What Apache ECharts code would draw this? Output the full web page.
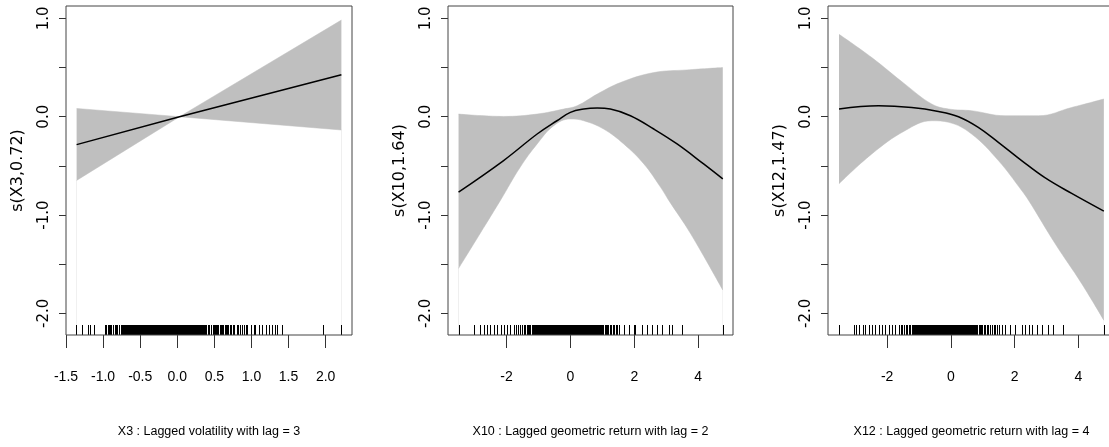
<!DOCTYPE html>
<html>
<head>
<meta charset="utf-8">
<script src="https://cdn.jsdelivr.net/npm/echarts@6/dist/echarts.min.js"></script>
<style>html,body{margin:0;padding:0;background:#fff}#c{width:1109px;height:447px}</style>
</head>
<body>
<div id="c"></div>
<script>
// ---------- data ----------
const yRange = [-2.22, 1.126];
const yTickValues = [-2, -1.5, -1, -0.5, 0, 0.5, 1];
const yLabelValues = [-2, -1, 0, 1];

// Panel 1: X3
const p1Range = [-1.5, 2.355];
const p1Ticks = [-1.5, -1, -0.5, 0, 0.5, 1, 1.5, 2];
const p1FitX = [-1.357, 0.03, 2.212];
const p1FitY = [-0.284, 0.0, 0.426];
const p1HiX = [-1.357, 0.03, 2.212];
const p1Hi = [0.084, 0.0, 0.983];
const p1LoX = [-1.357, 0.03, 2.212];
const p1Lo = [-0.648, 0.0, -0.135];
const p1Rug = [-1.36,-1.29,-1.21,-1.18,-1.12,
-0.98,-0.96,-0.94,-0.92,-0.91,-0.89,-0.87,-0.86,-0.84,-0.82,-0.81,-0.79,-0.78,-0.76,-0.75,-0.73,-0.72,-0.70,-0.69,-0.68,-0.66,-0.65,-0.64,-0.62,-0.61,-0.60,-0.59,-0.57,-0.56,-0.55,-0.54,-0.53,-0.51,-0.50,-0.49,-0.48,-0.47,-0.46,-0.45,-0.44,-0.43,-0.42,-0.41,-0.40,-0.39,-0.38,-0.37,-0.36,-0.35,-0.34,-0.33,-0.32,-0.31,-0.30,-0.29,-0.28,-0.27,-0.26,-0.25,-0.24,-0.23,-0.22,-0.21,-0.20,-0.19,-0.18,-0.17,-0.16,-0.15,-0.14,-0.13,-0.12,-0.11,-0.10,-0.09,-0.08,-0.07,-0.06,-0.05,-0.04,-0.03,-0.02,-0.01,0.00,0.01,0.02,0.03,0.04,0.05,0.06,0.07,0.08,0.09,0.10,0.11,0.12,0.13,0.14,0.15,0.16,0.17,0.18,0.19,0.20,0.21,0.22,0.23,0.24,0.25,0.26,0.27,0.28,0.29,0.30,0.31,0.32,0.33,0.34,0.35,0.36,0.37,0.38,0.39,0.41,0.42,0.43,0.45,0.46,0.48,0.49,0.51,0.52,0.54,0.55,0.57,0.59,0.60,0.62,0.64,0.65,0.67,0.69,0.71,0.73,0.75,0.77,0.80,0.82,0.85,0.87,0.90,0.92,0.94,0.99,1.03,1.05,1.10,1.14,1.19,1.23,1.28,1.32,1.35,1.41,1.96,2.21];

// Panel 2: X10
const p2Range = [-3.83, 5.09];
const p2Ticks = [-2, 0, 2, 4];
const p2FitX = [-3.50, -2.09, -1.04, -0.42, 0.0, 0.42, 0.84, 1.25, 1.88, 2.61, 3.34, 4.17, 4.77];
const p2FitY = [-0.767, -0.446, -0.176, -0.041, 0.044, 0.078, 0.088, 0.078, 0.010, -0.125, -0.277, -0.480, -0.632];
const p2HiX = [-3.50, -2.09, -1.04, -0.21, 0.21, 0.84, 1.57, 2.61, 3.65, 4.77];
const p2Hi = [0.027, 0.003, 0.027, 0.078, 0.111, 0.230, 0.348, 0.449, 0.476, 0.500];
const p2LoX = [-3.50, -2.19, -1.57, -1.04, -0.52, 0.0, 0.42, 1.04, 1.67, 2.30, 2.82, 3.08, 3.76, 4.77];
const p2Lo = [-1.543, -0.851, -0.513, -0.277, -0.091, -0.023, -0.041, -0.125, -0.277, -0.480, -0.716, -0.851, -1.188, -1.763];
const p2Rug = [-3.50,-3.03,-2.84,-2.71,-2.61,-2.50,-2.38,-2.29,-2.17,-2.09,-1.98,-1.88,-1.77,-1.70,-1.63,-1.57,-1.51,-1.46,-1.41,-1.37,-1.33,-1.29,
-1.25,-1.21,-1.18,-1.14,-1.11,-1.08,-1.05,-1.02,-0.99,-0.96,-0.93,-0.90,-0.88,-0.85,-0.83,-0.81,-0.79,-0.77,-0.75,-0.73,-0.71,-0.69,-0.67,-0.65,-0.63,-0.61,-0.59,-0.57,-0.55,-0.53,-0.51,-0.49,-0.47,-0.45,-0.43,-0.41,-0.39,-0.37,-0.35,-0.33,-0.31,-0.29,-0.27,-0.25,-0.23,-0.21,-0.19,-0.17,-0.15,-0.13,-0.11,-0.09,-0.07,-0.05,-0.03,-0.01,0.01,0.03,0.05,0.07,0.09,0.11,0.13,0.15,0.17,0.19,0.21,0.23,0.25,0.27,0.29,0.31,0.33,0.35,0.37,0.39,0.41,0.43,0.45,0.47,0.49,0.51,0.53,0.55,0.57,0.59,0.61,0.63,0.65,0.67,0.69,0.71,0.73,0.75,0.77,0.79,0.82,0.84,0.87,0.90,0.93,0.96,0.99,1.03,1.07,1.11,1.15,1.19,1.24,1.28,1.33,1.38,1.43,1.47,1.51,
1.67,1.83,1.98,2.03,2.24,2.40,2.56,2.71,2.87,3.08,3.18,3.50,4.77];

// Panel 3: X12
const p3Range = [-3.856, 5.15];
const p3Ticks = [-2, 0, 2, 4];
const p3FitX = [-3.51, -2.27, -1.23, -0.39, 0.24, 0.86, 1.49, 2.22, 2.95, 3.79, 4.80];
const p3FitY = [0.078, 0.111, 0.094, 0.054, 0.0, -0.108, -0.260, -0.446, -0.620, -0.780, -0.960];
const p3HiX = [-3.51, -2.48, -1.44, -0.60, -0.07, 0.65, 1.70, 2.75, 3.79, 4.80];
const p3Hi = [0.838, 0.601, 0.331, 0.129, 0.078, 0.061, 0.010, 0.010, 0.094, 0.180];
const p3LoX = [-3.51, -2.48, -1.44, -0.60, -0.07, 0.65, 1.49, 2.22, 2.44, 3.27, 4.10, 4.80];
const p3Lo = [-0.682, -0.378, -0.142, -0.041, -0.057, -0.176, -0.446, -0.750, -0.851, -1.290, -1.695, -2.070];
const p3Rug = [-3.51,-3.05,-2.98,-2.89,-2.77,-2.68,-2.58,-2.48,-2.37,-2.27,-2.16,-2.06,-1.95,-1.85,-1.74,-1.64,-1.58,-1.53,-1.47,-1.42,-1.37,-1.32,-1.27,
-1.22,-1.19,-1.16,-1.13,-1.10,-1.07,-1.04,-1.01,-0.98,-0.95,-0.92,-0.90,-0.87,-0.85,-0.83,-0.81,-0.79,-0.77,-0.75,-0.73,-0.71,-0.69,-0.67,-0.65,-0.63,-0.61,-0.59,-0.57,-0.55,-0.53,-0.51,-0.49,-0.47,-0.45,-0.43,-0.41,-0.39,-0.37,-0.35,-0.33,-0.31,-0.29,-0.27,-0.25,-0.23,-0.21,-0.19,-0.17,-0.15,-0.13,-0.11,-0.09,-0.07,-0.05,-0.03,-0.01,0.01,0.03,0.05,0.07,0.09,0.11,0.13,0.15,0.17,0.19,0.21,0.23,0.25,0.27,0.29,0.31,0.33,0.35,0.37,0.39,0.41,0.43,0.45,0.47,0.49,0.51,0.53,0.55,0.57,0.59,0.61,0.63,0.65,0.67,0.69,0.71,0.73,0.76,0.79,0.83,0.87,0.91,0.95,0.99,1.03,1.08,1.13,1.18,1.23,1.29,1.34,1.39,1.44,1.50,
1.60,1.70,1.86,2.02,2.23,2.33,2.44,2.54,2.70,2.87,3.06,3.22,3.53,4.80];

const xTitles = ['X3 : Lagged volatility with lag = 3', 'X10 : Lagged geometric return with lag = 2', 'X12 : Lagged geometric return with lag = 4'];
const yTitles = ['s(X3,0.72)', 's(X10,1.64)', 's(X12,1.47)'];

// ---------- chart ----------
const panels = [
  {range: p1Range, ticks: p1Ticks, fmt: v => v.toFixed(1), fitX: p1FitX, fitY: p1FitY, hiX: p1HiX, hi: p1Hi, loX: p1LoX, lo: p1Lo, rug: p1Rug, smooth: false},
  {range: p2Range, ticks: p2Ticks, fmt: v => String(v), fitX: p2FitX, fitY: p2FitY, hiX: p2HiX, hi: p2Hi, loX: p2LoX, lo: p2Lo, rug: p2Rug, smooth: 0.4},
  {range: p3Range, ticks: p3Ticks, fmt: v => String(v), fitX: p3FitX, fitY: p3FitY, hiX: p3HiX, hi: p3Hi, loX: p3LoX, lo: p3Lo, rug: p3Rug, smooth: 0.4}
];
const gridPos = [{left: 66, width: 286}, {left: 448, width: 285}, {left: 828, width: 287}];
const sans = '"Liberation Sans", Arial, sans-serif';
const pair = (xs, ys) => xs.map((x, i) => [x, ys[i]]);

const grid = [], xAxis = [], yAxis = [], series = [];
panels.forEach((p, i) => {
  grid.push({left: gridPos[i].left, width: gridPos[i].width, top: 6, height: 329, show: true, z: 10,
    outerBoundsMode: 'none', containLabel: false,
    backgroundColor: 'transparent', borderColor: '#444', borderWidth: 1});
  xAxis.push({gridIndex: i, type: 'value', min: p.range[0], max: p.range[1],
    axisLine: {show: false, onZero: false}, splitLine: {show: false},
    axisTick: {show: true, length: 13, customValues: p.ticks, lineStyle: {color: '#333', width: 1}},
    axisLabel: {customValues: p.ticks, formatter: p.fmt, margin: 35, fontFamily: sans, fontSize: 14, color: '#000'},
    name: xTitles[i], nameLocation: 'middle', nameGap: 90,
    nameTextStyle: {fontFamily: sans, fontSize: 12.5, color: '#000'}});
  yAxis.push({gridIndex: i, type: 'value', min: yRange[0], max: yRange[1],
    axisLine: {show: false, onZero: false}, splitLine: {show: false},
    axisTick: {show: true, length: 7, customValues: yTickValues, lineStyle: {color: '#333', width: 1}},
    axisLabel: {customValues: yLabelValues, formatter: v => v.toFixed(1), rotate: 90, margin: 14,
      fontFamily: '"DejaVu Sans", sans-serif', fontSize: 15, color: '#000'},
    name: yTitles[i], nameLocation: 'middle', nameRotate: 90, nameGap: 40,
    nameTextStyle: {fontFamily: '"DejaVu Sans", sans-serif', fontSize: 16, color: '#000'}});
  series.push({type: 'line', xAxisIndex: i, yAxisIndex: i, data: pair(p.hiX, p.hi), smooth: p.smooth,
    showSymbol: false, silent: true, z: 1, lineStyle: {width: 0.5, color: '#BFBFBF'},
    areaStyle: {color: '#BFBFBF', opacity: 1, origin: 'start'}});
  series.push({type: 'line', xAxisIndex: i, yAxisIndex: i, data: pair(p.loX, p.lo), smooth: p.smooth,
    showSymbol: false, silent: true, z: 2, lineStyle: {width: 0.5, color: '#BFBFBF'},
    areaStyle: {color: '#FFFFFF', opacity: 1, origin: 'start'}});
  series.push({type: 'line', xAxisIndex: i, yAxisIndex: i, data: pair(p.fitX, p.fitY), smooth: p.smooth,
    showSymbol: false, silent: true, z: 3, lineStyle: {width: 1.5, color: '#000'}});
  series.push({type: 'custom', xAxisIndex: i, yAxisIndex: i, data: p.rug.map(v => [v, yRange[0]]), z: 4, silent: true,
    renderItem: (params, api) => {
      const pt = api.coord([api.value(0), api.value(1)]);
      const x = Math.round(pt[0]) + 0.5;
      return {type: 'line', shape: {x1: x, y1: pt[1], x2: x, y2: pt[1] - 10}, style: {stroke: '#000', lineWidth: 1}};
    }});
});

const chart = echarts.init(document.getElementById('c'), null, {renderer: 'canvas'});
chart.setOption({animation: false, backgroundColor: '#fff', grid, xAxis, yAxis, series});
</script>
</body>
</html>
